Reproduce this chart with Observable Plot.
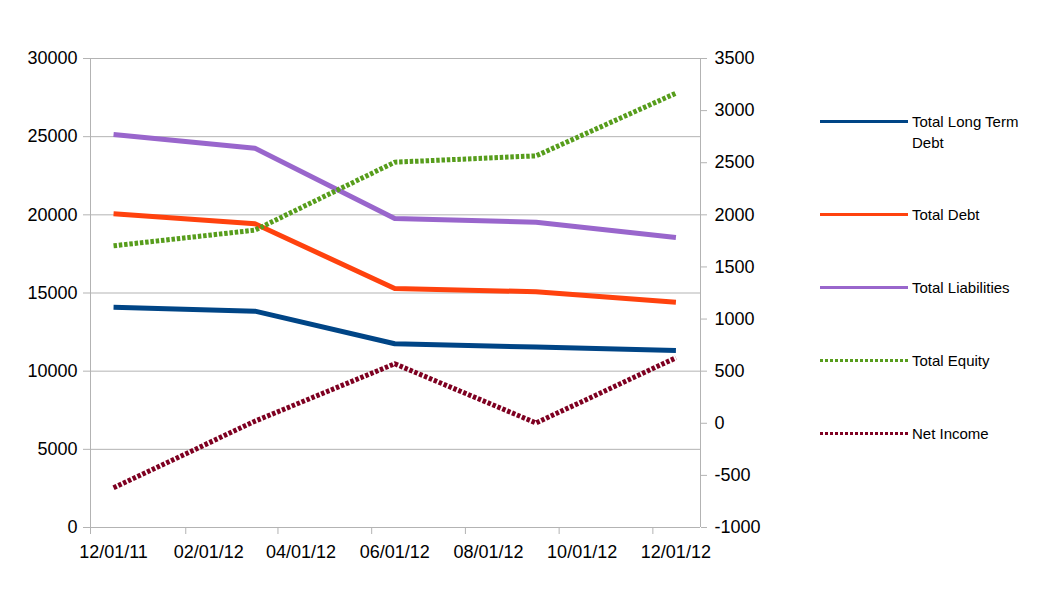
<!DOCTYPE html>
<html>
<head>
<meta charset="utf-8">
<script src="https://cdn.jsdelivr.net/npm/d3@7"></script>
<script src="https://cdn.jsdelivr.net/npm/@observablehq/plot@0.6"></script>
<style>
  html, body { margin: 0; padding: 0; background: #fff; }
  #wrap { position: relative; width: 1043px; height: 595px; font-family: "Liberation Sans", Arial, sans-serif; }
  #legend { position: absolute; left: 820px; top: 0; }
  .item { position: absolute; left: 0; display: flex; align-items: flex-start; width: 220px; }
  .item svg { flex: none; }
  .item span { font-size: 15px; line-height: 21px; color: #000; width: 120px; margin-left: 4px; }
</style>
</head>
<body>
<div id="wrap"><div id="chart"></div><div id="legend"></div></div>
<script>
// ---- data ----
const dates = ["2011-12-16", "2012-03-17", "2012-06-16", "2012-09-16", "2012-12-16"];
const longTermDebt = [14090, 13840, 11750, 11540, 11320];
const totalDebt = [20070, 19430, 15290, 15080, 14410];
const totalLiabilities = [25140, 24260, 19770, 19530, 18550];
const totalEquity = [1703, 1853, 2505, 2566, 3167];
const netIncome = [-619, 20, 571, 3, 628];

const seriesNames = ["Total Long Term Debt", "Total Debt", "Total Liabilities", "Total Equity", "Net Income"];
const seriesColors = ["#004586", "#ff420e", "#9966cc", "#579d1c", "#7e0021"];
const seriesAxis = ["left", "left", "left", "right", "right"];
const seriesValues = [longTermDebt, totalDebt, totalLiabilities, totalEquity, netIncome];

const leftTicks = [0, 5000, 10000, 15000, 20000, 25000, 30000];
const rightTicks = [-1000, -500, 0, 500, 1000, 1500, 2000, 2500, 3000, 3500];
const xTickLabels = ["2011-12-01", "2012-02-01", "2012-04-01", "2012-06-01", "2012-08-01", "2012-10-01", "2012-12-01"];
const xDomain = ["2011-12-01", "2013-01-01"];
const leftDomain = [0, 30000];
const rightDomain = [-1000, 3500];

// map right-axis values onto the left scale
const toLeft = v => (v - rightDomain[0]) / (rightDomain[1] - rightDomain[0]) * (leftDomain[1] - leftDomain[0]) + leftDomain[0];
const fromLeft = v => (v - leftDomain[0]) / (leftDomain[1] - leftDomain[0]) * (rightDomain[1] - rightDomain[0]) + rightDomain[0];

const parse = d3.utcParse("%Y-%m-%d");
const rows = [];
seriesNames.forEach((name, i) => {
  seriesValues[i].forEach((v, j) => {
    rows.push({series: name, date: parse(dates[j]), value: v, y: seriesAxis[i] === "right" ? toLeft(v) : v});
  });
});

const grey = "#b3b3b3";
const fmtDate = d3.utcFormat("%m/%d/%y");

const lineMarks = seriesNames.map((name, i) => Plot.line(rows.filter(r => r.series === name), {
  x: "date", y: "y",
  stroke: seriesColors[i],
  strokeWidth: 5,
  strokeLinejoin: "round",
  strokeLinecap: "butt",
  strokeDasharray: seriesAxis[i] === "right" ? "3.5,1.8" : null
}));

const xTicks = xTickLabels.map(parse);

const chart = Plot.plot({
  width: 1043,
  height: 595,
  marginLeft: 90,
  marginRight: 343,
  marginTop: 58,
  marginBottom: 68,
  style: {fontFamily: "'Liberation Sans', Arial, sans-serif", fontSize: "18px", background: "#fff", color: "#000"},
  x: {type: "utc", domain: xDomain.map(parse)},
  y: {domain: leftDomain},
  marks: [
    Plot.gridY(leftTicks, {stroke: grey, strokeOpacity: 1, strokeWidth: 1}),
    Plot.ruleX([parse(xDomain[0]), parse(xDomain[1])], {stroke: grey, strokeWidth: 1}),
    Plot.ruleY([leftDomain[0]], {stroke: grey, strokeWidth: 1}),
    Plot.axisY(leftTicks, {anchor: "left", tickSize: 7, tickPadding: 6, stroke: grey, fill: "#000", fontSize: 18, label: null, tickFormat: d => String(d)}),
    Plot.axisY(rightTicks.map(toLeft), {anchor: "right", tickSize: 6, tickPadding: 8, stroke: grey, fill: "#000", fontSize: 18, label: null, tickFormat: d => String(Math.round(fromLeft(d)))}),
    Plot.axisX(xTicks, {anchor: "bottom", tickSize: 7, stroke: grey, label: null, tickFormat: () => ""}),
    Plot.axisX(xTicks, {anchor: "bottom", tickSize: 0, tickPadding: 18, fill: "#000", fontSize: 18, label: null, tickFormat: fmtDate, dx: 23}),
    ...lineMarks
  ]
});
document.getElementById("chart").appendChild(chart);

// ---- legend (HTML, right of the plot) ----
const legendCenters = [121, 214, 287, 360, 433];
const legend = document.getElementById("legend");
seriesNames.forEach((name, i) => {
  const item = document.createElement("div");
  item.className = "item";
  item.style.top = (legendCenters[i] - 10.5) + "px";
  const dotted = seriesAxis[i] === "right";
  item.innerHTML = `<svg width="88" height="21"><line x1="0" x2="88" y1="10.5" y2="10.5" stroke="${seriesColors[i]}" stroke-width="3" ${dotted ? 'stroke-dasharray="3,2"' : ''}/></svg><span>${name}</span>`;
  legend.appendChild(item);
});
</script>
</body>
</html>
